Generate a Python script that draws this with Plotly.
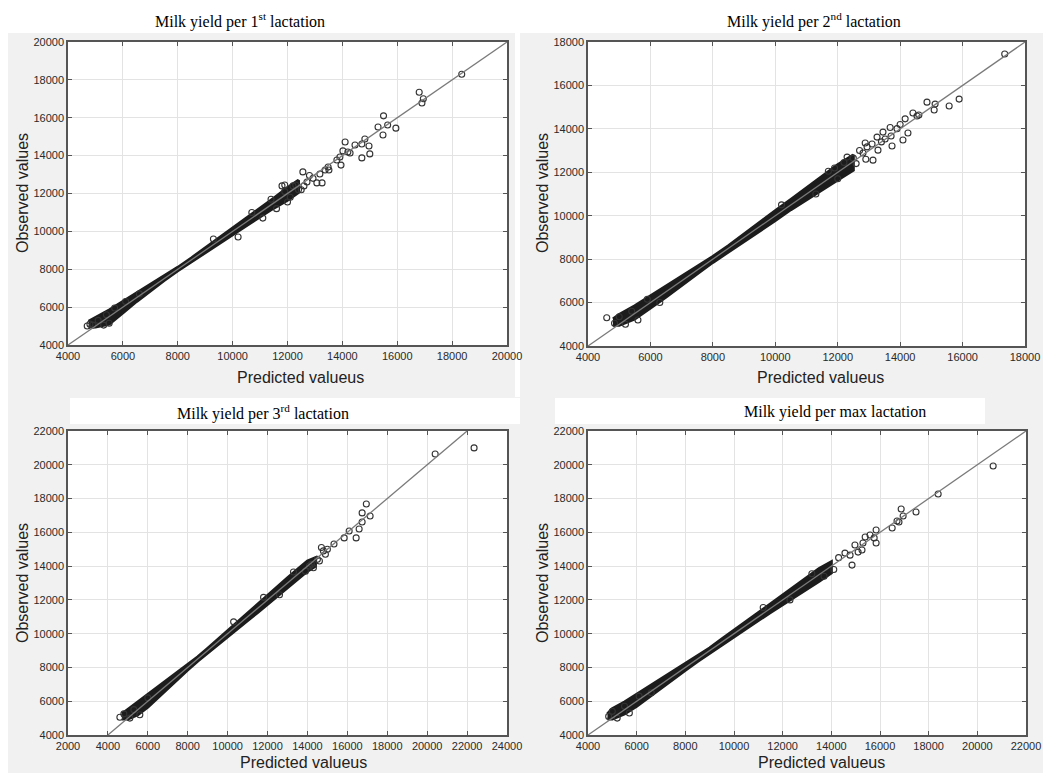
import plotly.graph_objects as go

W, H = 1043, 773

# ---------------- data ----------------
# panel 1: 1st lactation
band_pred1 = [4750, 5000, 5500, 6000, 6500, 7000, 7500, 8000, 8500, 9000, 9500, 10000, 10500, 11000, 11500, 12000, 12400]
band_lo1 = [4950, 4950, 5100, 5700, 6300, 6850, 7400, 7920, 8400, 8880, 9350, 9820, 10300, 10780, 11230, 11650, 12050]
band_hi1 = [5250, 5450, 5850, 6300, 6750, 7200, 7650, 8100, 8600, 9120, 9650, 10180, 10700, 11230, 11750, 12300, 12700]
pred1 = [4700, 4800, 4900, 5100, 5300, 5500, 5400, 5700, 6100, 6600, 9300, 10700, 11100, 11600, 12000, 12200, 12500, 11900, 11400, 10200,
         15500, 16800, 16950, 16900, 18350, 15650, 15950, 15480, 15300, 14970, 15000, 14710, 14820, 14710, 14460, 14100, 14280, 14200,
         13950, 13910, 14020, 13800, 13480, 13370, 13260, 12560, 13180, 12930, 13070, 12710, 13510, 11800, 12800, 12400, 12600, 12300,
         12100, 11900]
obs1 = [5000, 5100, 5050, 5300, 5050, 5150, 5600, 5950, 6300, 6700, 9600, 11000, 10700, 11200, 11550, 12400, 12200, 12450, 11700, 9700,
        16100, 17350, 17000, 16780, 18300, 15620, 15450, 15090, 15510, 14510, 14090, 13880, 14880, 14610, 14560, 14720, 14140, 14190,
        13500, 13930, 14250, 13770, 13400, 13240, 12560, 13140, 13030, 12800, 12560, 12610, 13240, 12400, 12950, 12200, 12400, 12450,
        11800, 12100]

# panel 2: 2nd lactation
band_pred2 = [4800, 5000, 5500, 6000, 6500, 7000, 7500, 8000, 8500, 9000, 9500, 10000, 10500, 11000, 11500, 12000, 12500]
band_lo2 = [4950, 4950, 5250, 5750, 6250, 6780, 7330, 7850, 8350, 8830, 9300, 9780, 10280, 10750, 11200, 11650, 12100]
band_hi2 = [5250, 5450, 5850, 6300, 6750, 7220, 7650, 8120, 8620, 9170, 9700, 10230, 10750, 11280, 11800, 12350, 12800]
pred2 = [4600, 4850, 5000, 5200, 5400, 5600, 5900, 6300, 10200, 11300, 11700, 12000, 12200, 11900,
         17350, 15890, 15570, 15090, 15120, 14860, 14600, 14540, 14410, 14160, 14250, 14090, 14000, 13900, 13680, 13710,
         13740, 13520, 13450, 13260, 13130, 13290, 12940, 12880, 12810, 12590, 12700, 12500, 12300, 12900, 13100, 13400]
obs2 = [5300, 5050, 5350, 5000, 5600, 5200, 6150, 6000, 10500, 11000, 12050, 11700, 12450, 12200,
        17450, 15370, 15050, 14870, 15140, 15230, 14640, 14590, 14730, 14460, 13810, 13490, 14200, 14010, 14060, 13670,
        13210, 13530, 13850, 13620, 12560, 13020, 13170, 13350, 12890, 12400, 13000, 12650, 12700, 12600, 13300, 13400]

# panel 3: 3rd lactation
band_pred3 = [4700, 5000, 5500, 6000, 6500, 7000, 7500, 8000, 8500, 9000, 9500, 10000, 10500, 11000, 11500, 12000, 12500, 13000, 13500, 14000, 14400]
band_lo3 = [4950, 4950, 5200, 5650, 6200, 6750, 7300, 7850, 8380, 8880, 9350, 9830, 10300, 10780, 11250, 11730, 12200, 12700, 13200, 13700, 14000]
band_hi3 = [5250, 5500, 5950, 6400, 6850, 7300, 7700, 8150, 8620, 9130, 9650, 10200, 10720, 11250, 11770, 12300, 12800, 13300, 13800, 14300, 14500]
pred3 = [4600, 4800, 5100, 5300, 5600, 6000, 10300, 11800, 12600, 13300,
         22350, 20400, 16950, 16740, 17140, 16740, 16590, 16440, 16090, 15840, 15330, 15000, 14800, 14600, 14900, 14200,
         14500, 14300, 13900, 14700, 14100]
obs3 = [5050, 5250, 5000, 5500, 5200, 6200, 10700, 12150, 12300, 13650,
        21000, 20640, 17680, 17150, 16970, 16610, 16200, 15670, 16080, 15670, 15310, 15000, 14900, 14300, 14700, 14100,
        14400, 13900, 13700, 15100, 14000]

# panel 4: max lactation
band_pred4 = [4800, 5000, 5500, 6000, 6500, 7000, 7500, 8000, 8500, 9000, 9500, 10000, 10500, 11000, 11500, 12000, 12500, 13000, 13500, 14000]
band_lo4 = [4950, 4950, 5250, 5700, 6230, 6760, 7300, 7830, 8350, 8850, 9330, 9820, 10300, 10780, 11250, 11720, 12200, 12650, 13100, 13600]
band_hi4 = [5250, 5550, 5950, 6400, 6850, 7300, 7750, 8200, 8650, 9150, 9680, 10200, 10720, 11250, 11780, 12320, 12850, 13350, 13850, 14250]
pred4 = [4850, 5000, 5200, 5500, 5700, 6100, 6600, 11200, 12300, 13200, 13700,
         20650, 18390, 17480, 16870, 16950, 16780, 16700, 16500, 15840, 15840, 15590, 15760, 15390, 15300, 15100, 15260,
         14970, 14850, 14770, 14560, 14300, 14100]
obs4 = [5100, 5400, 5000, 5700, 5300, 6300, 6500, 11550, 12000, 13550, 13400,
        19930, 18270, 17200, 17380, 16970, 16610, 16670, 16260, 16140, 15370, 15840, 15670, 15720, 15370, 14830, 14950,
        15250, 14060, 14650, 14770, 14500, 13800]

# axis ranges / diagonal ends
x_ranges = [[4000, 20000], [4000, 18000], [2000, 24000], [4000, 22000]]
y_ranges = [[4000, 20000], [4000, 18000], [4000, 22000], [4000, 22000]]
diag_x = [[4000, 20000], [4000, 18000], [4000, 22000], [4000, 22000]]

titles = ["Milk yield per 1<sup>st</sup> lactation", "Milk yield per 2<sup>nd</sup> lactation",
          "Milk yield per 3<sup>rd</sup> lactation", "Milk yield per max lactation"]
x_title = "Predicted valueus"
y_title = "Observed values"

bands = [(band_pred1, band_lo1, band_hi1), (band_pred2, band_lo2, band_hi2),
         (band_pred3, band_lo3, band_hi3), (band_pred4, band_lo4, band_hi4)]
points = [(pred1, obs1), (pred2, obs2), (pred3, obs3), (pred4, obs4)]

# ---------------- layout geometry (pixels) ----------------
plot_boxes = [(68, 507, 42, 345), (588, 1025, 42, 346), (68, 507, 431, 735), (588, 1026, 431, 735)]
title_pos = [(240, 20), (814, 20), (263, 412), (835, 412)]
xlab_pos = [(300, 377), (820, 377), (303, 762), (821, 762)]
ylab_pos = [(22, 193), (542, 193), (22, 583), (542, 583)]
white_boxes = [(0, 1043, 0, 33), (0, 8, 0, 773), (515, 520, 0, 397), (70, 520, 398, 424), (555, 985, 398, 424)]

def px(x):
    return x / W

def py(y):
    return 1 - y / H

fig = go.Figure()
layout = dict(width=W, height=H, margin=dict(l=0, r=0, t=0, b=0, pad=0, autoexpand=False), autosize=False,
              paper_bgcolor="#f1f1f1", plot_bgcolor="white", showlegend=False)

shapes = []
for (x0, x1, y0, y1) in white_boxes:
    shapes.append(dict(type="rect", xref="paper", yref="paper", x0=px(x0), x1=px(x1), y0=py(y1), y1=py(y0),
                       fillcolor="white", line=dict(width=0), layer="below"))

annotations = []
for i in range(4):
    xa = "x" if i == 0 else f"x{i+1}"
    ya = "y" if i == 0 else f"y{i+1}"
    bx, lo, hi = bands[i]
    fig.add_trace(go.Scatter(x=bx + bx[::-1], y=hi + lo[::-1], fill="toself", fillcolor="#1c1c1c",
                             line=dict(color="#1c1c1c", width=3), mode="lines", xaxis=xa, yaxis=ya,
                             hoverinfo="skip"))
    ptx, pty = points[i]
    fig.add_trace(go.Scatter(x=ptx, y=pty, mode="markers", xaxis=xa, yaxis=ya,
                             marker=dict(symbol="circle-open", size=6, color="#333333", line=dict(width=1.1))))
    fig.add_trace(go.Scatter(x=diag_x[i], y=diag_x[i], mode="lines", xaxis=xa, yaxis=ya,
                             line=dict(color="#7a7a7a", width=1.3), hoverinfo="skip"))

    x0, x1, y0, y1 = plot_boxes[i]
    axcommon = dict(showline=True, linecolor="#555555", linewidth=1.5, mirror="ticks", ticks="inside",
                    ticklen=4, tickcolor="#555555", showgrid=True, gridcolor="#e3e3e3", gridwidth=1,
                    zeroline=False, dtick=2000, tickformat="d", automargin=False,
                    tickfont=dict(family="Liberation Sans, Arial", size=11, color="#2a2a2a"))
    xkey = "xaxis" if i == 0 else f"xaxis{i+1}"
    ykey = "yaxis" if i == 0 else f"yaxis{i+1}"
    layout[xkey] = dict(axcommon, domain=[px(x0), px(x1)], range=x_ranges[i], anchor=ya, tick0=x_ranges[i][0])
    layout[ykey] = dict(axcommon, domain=[py(y1), py(y0)], range=y_ranges[i], anchor=xa, tick0=y_ranges[i][0])

    tx, ty = title_pos[i]
    annotations.append(dict(text=titles[i], x=px(tx), y=py(ty), xref="paper", yref="paper", showarrow=False,
                            font=dict(family="Liberation Serif, Times New Roman", size=16, color="black"),
                            xanchor="center", yanchor="middle"))
    lx, ly = xlab_pos[i]
    annotations.append(dict(text=x_title, x=px(lx), y=py(ly), xref="paper", yref="paper", showarrow=False,
                            font=dict(family="Liberation Sans, Arial", size=16, color="#222222"),
                            xanchor="center", yanchor="middle"))
    yx, yy = ylab_pos[i]
    annotations.append(dict(text=y_title, x=px(yx), y=py(yy), xref="paper", yref="paper", showarrow=False,
                            textangle=-90,
                            font=dict(family="Liberation Sans, Arial", size=16, color="#222222"),
                            xanchor="center", yanchor="middle"))

layout["shapes"] = shapes
layout["annotations"] = annotations
fig.update_layout(**layout)
fig.write_html("out.html", config={"displayModeBar": False},
               post_script="document.body.style.margin='0';")
